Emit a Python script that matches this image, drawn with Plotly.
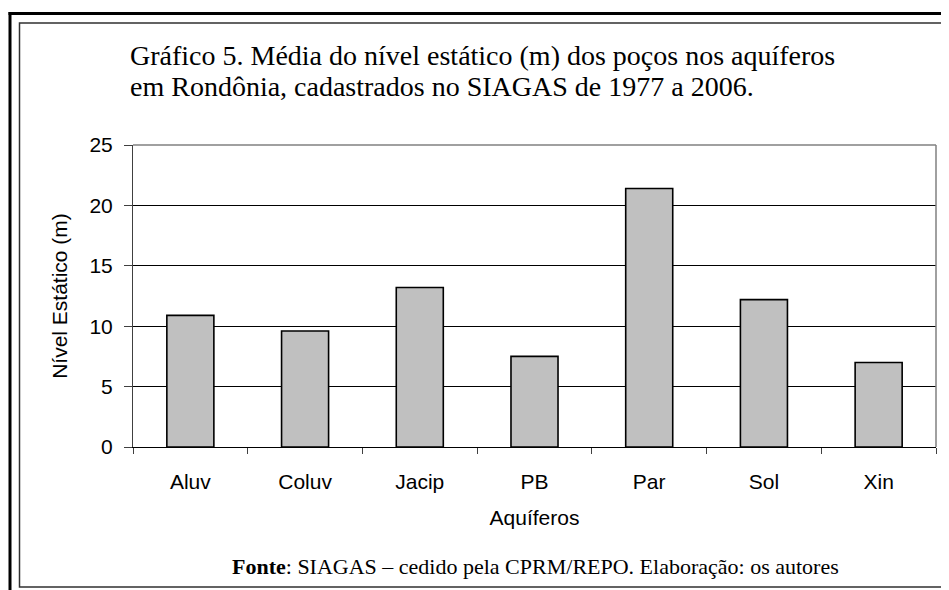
import plotly.graph_objects as go

# Média do nível estático por aquífero (m)
aquiferos = ['Aluv', 'Coluv', 'Jacip', 'PB', 'Par', 'Sol', 'Xin']
nivel_estatico = [10.9, 9.6, 13.2, 7.5, 21.4, 12.2, 7.0]
y_ticks = [0, 5, 10, 15, 20, 25]

# a página tem margem de 8px no body: a figura é desenhada 8px menor
OFF = 8
W, H = 949 - OFF, 590 - OFF
L, R, T, B = 133 - OFF, 13, 145 - OFF, 143
PW, PH = W - L - R, H - T - B


def px(x):
    # x em pixels da janela -> paper
    return (x - OFF - L) / PW


def py(y):
    # y em pixels da janela -> paper
    return (H - B - (y - OFF)) / PH


fig = go.Figure(
    go.Bar(
        x=aquiferos,
        y=nivel_estatico,
        marker=dict(color='#C0C0C0', line=dict(color='black', width=1.6)),
        width=0.41,
    )
)

fig.update_layout(
    width=W, height=H,
    margin=dict(l=L, r=R, t=T, b=B),
    plot_bgcolor='white', paper_bgcolor='white',
    showlegend=False,
    font=dict(family='Liberation Sans, Arial', size=21, color='black'),
)

fig.update_xaxes(
    type='category', tickson='boundaries', ticks='outside', ticklen=6,
    tickcolor='#404040', showline=True, linecolor='black', linewidth=1,
    showgrid=False, ticklabelstandoff=16,
    title=dict(text='Aquíferos', standoff=18, font=dict(size=21)),
)
fig.update_yaxes(
    range=[0, 25], tickvals=y_ticks, ticks='outside', ticklen=8,
    tickcolor='#404040', showline=True, linecolor='#404040', linewidth=1,
    showgrid=True, gridcolor='black', gridwidth=1, zeroline=False,
    ticklabelstandoff=7,
    title=dict(text='Nível Estático (m)', standoff=16, font=dict(size=21)),
)

# borda cinza do plot (topo e direita)
fig.add_shape(type='line', xref='paper', yref='paper', x0=0, x1=1, y0=1, y1=1,
              line=dict(color='#808080', width=1.5))
fig.add_shape(type='line', xref='paper', yref='paper', x0=1, x1=1, y0=0, y1=1,
              line=dict(color='#808080', width=1.5))

# molduras da figura
fig.add_shape(type='line', xref='paper', yref='paper', x0=px(10), x1=px(10), y0=py(12), y1=py(600),
              line=dict(color='black', width=3))
fig.add_shape(type='line', xref='paper', yref='paper', x0=px(8.5), x1=px(960), y0=py(13.5), y1=py(13.5),
              line=dict(color='black', width=3))
fig.add_shape(type='rect', xref='paper', yref='paper', x0=px(19.5), x1=px(960), y0=py(587), y1=py(23),
              line=dict(color='#303030', width=1.5))

serif = 'Liberation Serif, Times New Roman'
fig.add_annotation(text='Gráfico 5. Média do nível estático (m) dos poços nos aquíferos',
                   xref='paper', yref='paper', x=px(128), y=py(56), xanchor='left', yanchor='middle',
                   showarrow=False, font=dict(family=serif, size=28))
fig.add_annotation(text='em Rondônia, cadastrados no SIAGAS de 1977 a 2006.',
                   xref='paper', yref='paper', x=px(128), y=py(86), xanchor='left', yanchor='middle',
                   showarrow=False, font=dict(family=serif, size=28))
fig.add_annotation(text='<b>Fonte</b>: SIAGAS – cedido pela CPRM/REPO. Elaboração: os autores',
                   xref='paper', yref='paper', x=px(535), y=py(566), xanchor='center', yanchor='middle',
                   showarrow=False, font=dict(family=serif, size=22))

fig.write_html('out.html')
